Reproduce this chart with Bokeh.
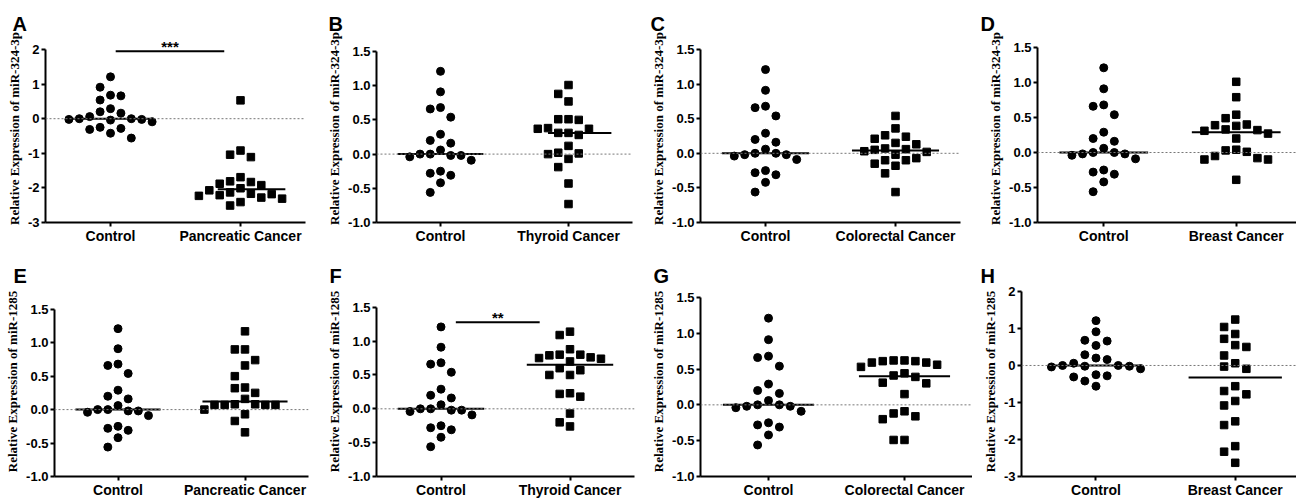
import numpy as np
from bokeh.plotting import figure
from bokeh.layouts import row, column
from bokeh.models import FixedTicker, PrintfTickFormatter, Span, Range1d, Title
from bokeh.core.properties import value
from bokeh.embed import file_html
from bokeh.resources import INLINE

# ---------------- data ----------------
group_labels = ["Control", "Cancer"]
control = [1.21, 0.91, 0.68, 0.66, 0.54, 0.29, 0.20, 0.16, 0.06, 0.0,
           -0.02, -0.09, -0.04, -0.02, 0.0, -0.28, -0.31, -0.25, -0.42, -0.56]

pancreatic_324 = [0.53, -0.92, -1.04, -1.11, -1.69, -1.81, -1.83, -1.88, -1.92, -2.01,
                  -2.07, -2.13, -2.17, -2.18, -2.21, -2.23, -2.28, -2.31, -2.41, -2.51]
thyroid_324 = [1.01, 0.88, 0.77, 0.51, 0.50, 0.51, 0.37, 0.31, 0.28, 0.31,
               0.37, 0.38, 0.12, 0.02, 0.0, 0.01, -0.07, -0.19, -0.43, -0.73]
colorectal_324 = [0.54, 0.36, 0.26, 0.24, 0.21, 0.15, 0.13, 0.07, 0.06, 0.05,
                  0.03, 0.02, -0.02, -0.07, -0.10, -0.10, -0.15, -0.18, -0.29, -0.56]
breast_324 = [1.01, 0.79, 0.54, 0.49, 0.40, 0.39, 0.38, 0.33, 0.32, 0.31,
              0.27, 0.20, 0.04, 0.03, 0.01, -0.05, -0.08, -0.10, -0.10, -0.39]

pancreatic_1285 = [1.17, 0.90, 0.90, 0.74, 0.66, 0.50, 0.33, 0.32, 0.25, 0.16,
                   0.08, 0.08, 0.07, 0.07, 0.07, 0.07, 0.0, -0.07, -0.17, -0.34]
thyroid_1285 = [1.14, 1.09, 0.88, 0.80, 0.80, 0.79, 0.76, 0.75, 0.74, 0.70,
                0.60, 0.57, 0.50, 0.50, 0.23, 0.22, 0.18, -0.07, -0.20, -0.26]
colorectal_1285 = [0.62, 0.62, 0.61, 0.61, 0.59, 0.59, 0.56, 0.53, 0.44, 0.41,
                   0.39, 0.31, 0.30, 0.15, -0.09, -0.12, -0.16, -0.20, -0.49, -0.49]
breast_1285 = [1.24, 1.04, 0.85, 0.72, 0.55, 0.50, 0.27, 0.06, -0.03, -0.09,
               -0.56, -0.69, -0.78, -0.96, -1.08, -1.51, -1.61, -2.18, -2.33, -2.63]

letters = ["A", "B", "C", "D", "E", "F", "G", "H"]
mirnas = ["miR-324-3p"] * 4 + ["miR-1285"] * 4
cancer_names = ["Pancreatic Cancer", "Thyroid Cancer", "Colorectal Cancer", "Breast Cancer"] * 2
cancer_values = [pancreatic_324, thyroid_324, colorectal_324, breast_324,
                 pancreatic_1285, thyroid_1285, colorectal_1285, breast_1285]
y_limits = [(-3, 2), (-1, 1.5), (-1, 1.5), (-1, 1.5), (-1, 1.5), (-1, 1.5), (-1, 1.5), (-3, 2)]
y_tick_values = [[-3, -2, -1, 0, 1, 2]] + [[-1, -0.5, 0, 0.5, 1, 1.5]] * 6 + [[-3, -2, -1, 0, 1, 2]]
y_tick_formats = ["%d"] + ["%.1f"] * 6 + ["%d"]
# text, bar start, bar end, bar height, text height
significance = {"A": ("***", 1.08, 2.75, 1.95, 2.09), "F": ("**", 1.23, 2.53, 1.28, 1.35)}

# ---------------- layout (screen px of the 1296x500 picture) ----------------
# per row: fig_y, fig_h, frame_top, frame_bottom (frames of one row are aligned by Bokeh)
rows_geom = [(0, 250, 34, 222), (250, 250, 286, 478)]
# per panel: fig_x, fig_w, frame_left, frame_right, px of the top tick, x_start, x_end
geom = {
    "A": (0, 324, 45, 305, 49, 0.0, 4.0),
    "B": (324, 324, 373, 632, 51, 0.0, 4.0),
    "C": (648, 324, 699, 960, 49, 0.0, 4.0),
    "D": (972, 324, 1037, 1296, 47, 0.0, 3.91),
    "E": (0, 324, 54, 308, 309, 0.0, 4.0),
    "F": (324, 324, 372, 634, 307, 0.0, 4.0),
    "G": (648, 324, 696, 972, 297, 0.0, 4.0),
    "H": (972, 324, 1021, 1296, 291, -0.07, 3.88),
}
letter_x = {"A": 12, "B": 325, "C": 649, "D": 980, "E": 13, "F": 325, "G": 649, "H": 980}
median_half = {"A": (0.35, 0.69), "B": (0.32, 0.67)}

COL_SPACING = 0.16
THRESH_PX = 11.0
SANS = "Liberation Sans"
SERIF = "Liberation Serif"
LETTER_PX = 20
SIG_PX = 15


def swarm(values, center, ppu_y):
    vals = np.asarray(values, dtype=float)
    order = np.argsort(-vals, kind="stable")
    cand = [0] + [s * k for k in range(1, 15) for s in (-1, 1)]
    placed = []
    xs = np.zeros(len(vals))
    for i in order:
        v = vals[i]
        for c in cand:
            ok = all(not (pc == c and abs(pv - v) * ppu_y < THRESH_PX) for pc, pv in placed)
            if ok:
                placed.append((c, v))
                xs[i] = center + c * COL_SPACING
                break
    return xs


def make_panel(k):
    L_ = letters[k]
    fy, fh, ft, fb = rows_geom[k // 4]
    fx, fw, fl, fr, yt, xs0, xs1 = geom[L_]
    y0, y1 = y_limits[k]
    ppu_y = (fb - yt) / (y1 - y0)
    pad = (yt - ft) / ppu_y          # room above the top tick (axis line stops at y1)
    p = figure(width=fw, height=fh, output_backend="svg", toolbar_location=None,
               x_range=Range1d(xs0, xs1), y_range=Range1d(y0, y1 + pad),
               min_border_left=int(round(fl - fx)), min_border_right=int(round((fx + fw) - fr)),
               min_border_top=int(round(ft - fy)), min_border_bottom=int(round((fy + fh) - fb)))
    p.title = None
    p.outline_line_color = None
    p.grid.visible = False
    p.background_fill_color = "white"
    p.border_fill_color = "white"

    # zero reference line
    p.add_layout(Span(location=0, dimension="width", line_color="#777777",
                      line_dash="2 2", line_width=1))

    ctrl_x = swarm(control, 1.0, ppu_y)
    canc_x = swarm(cancer_values[k], 3.0, ppu_y)
    p.scatter(ctrl_x, control, marker="circle", size=8, fill_color="black", line_color="black")
    p.scatter(canc_x, cancer_values[k], marker="square", size=7.5, fill_color="black", line_color="black")

    # medians
    hl, hr = median_half.get(L_, (0.67, 0.67))
    mc = float(np.median(control))
    mk = float(np.median(cancer_values[k]))
    p.segment(x0=[1 - 0.67, 3 - hl], y0=[mc, mk], x1=[1 + 0.67, 3 + hr], y1=[mc, mk],
              line_color="black", line_width=2)

    # significance bar and stars
    if L_ in significance:
        txt, sx0, sx1, sy, ty = significance[L_]
        p.segment(x0=[sx0], y0=[sy], x1=[sx1], y1=[sy], line_color="black", line_width=2)
        p.text(x=[(sx0 + sx1) / 2], y=[ty], text=[txt], text_align="center",
               text_baseline="middle", text_font=value(SANS), text_font_size=f"{SIG_PX}px",
               text_font_style="bold", text_color="black")

    # axes
    xa = p.xaxis[0]
    xa.ticker = FixedTicker(ticks=[1, 3])
    xa.major_label_overrides = {1: group_labels[0], 3: cancer_names[k]}
    xa.major_label_text_font = SANS
    xa.major_label_text_font_size = "14px"
    xa.major_label_text_font_style = "bold"
    xa.major_label_text_color = "black"
    xa.major_label_standoff = 1
    xa.minor_tick_line_color = None
    xa.major_tick_in = 0
    xa.major_tick_out = 4
    xa.major_tick_line_width = 2
    xa.axis_line_width = 2
    xa.axis_line_color = "black"

    ya = p.yaxis[0]
    ya.bounds = (y0, y1)
    ya.ticker = FixedTicker(ticks=y_tick_values[k])
    ya.formatter = PrintfTickFormatter(format=y_tick_formats[k])
    ya.major_label_text_font = SANS
    ya.major_label_text_font_size = "13px"
    ya.major_label_text_font_style = "bold"
    ya.major_label_text_color = "black"
    ya.major_label_standoff = 2
    ya.minor_tick_line_color = None
    ya.major_tick_in = 0
    ya.major_tick_out = 4
    ya.major_tick_line_width = 2
    ya.axis_line_width = 2
    ya.axis_line_color = "black"
    ya.axis_label = "Relative Expression of " + mirnas[k]
    ya.axis_label_text_font = SERIF
    ya.axis_label_text_font_size = "13px"
    ya.axis_label_text_font_style = "bold"
    ya.axis_label_text_color = "black"
    ya.axis_label_standoff = 3

    # panel letter: title sitting right on top of the frame
    p.add_layout(Title(text=L_, align="left", offset=letter_x[L_] - fl, standoff=0,
                       text_font=SANS, text_font_size=f"{LETTER_PX}px", text_font_style="bold",
                       text_color="black"), "above")
    return p


panels = [make_panel(k) for k in range(8)]
layout = column(row(*panels[:4], spacing=0), row(*panels[4:], spacing=0), spacing=0)
open("out.html", "w").write(file_html(layout, INLINE))
